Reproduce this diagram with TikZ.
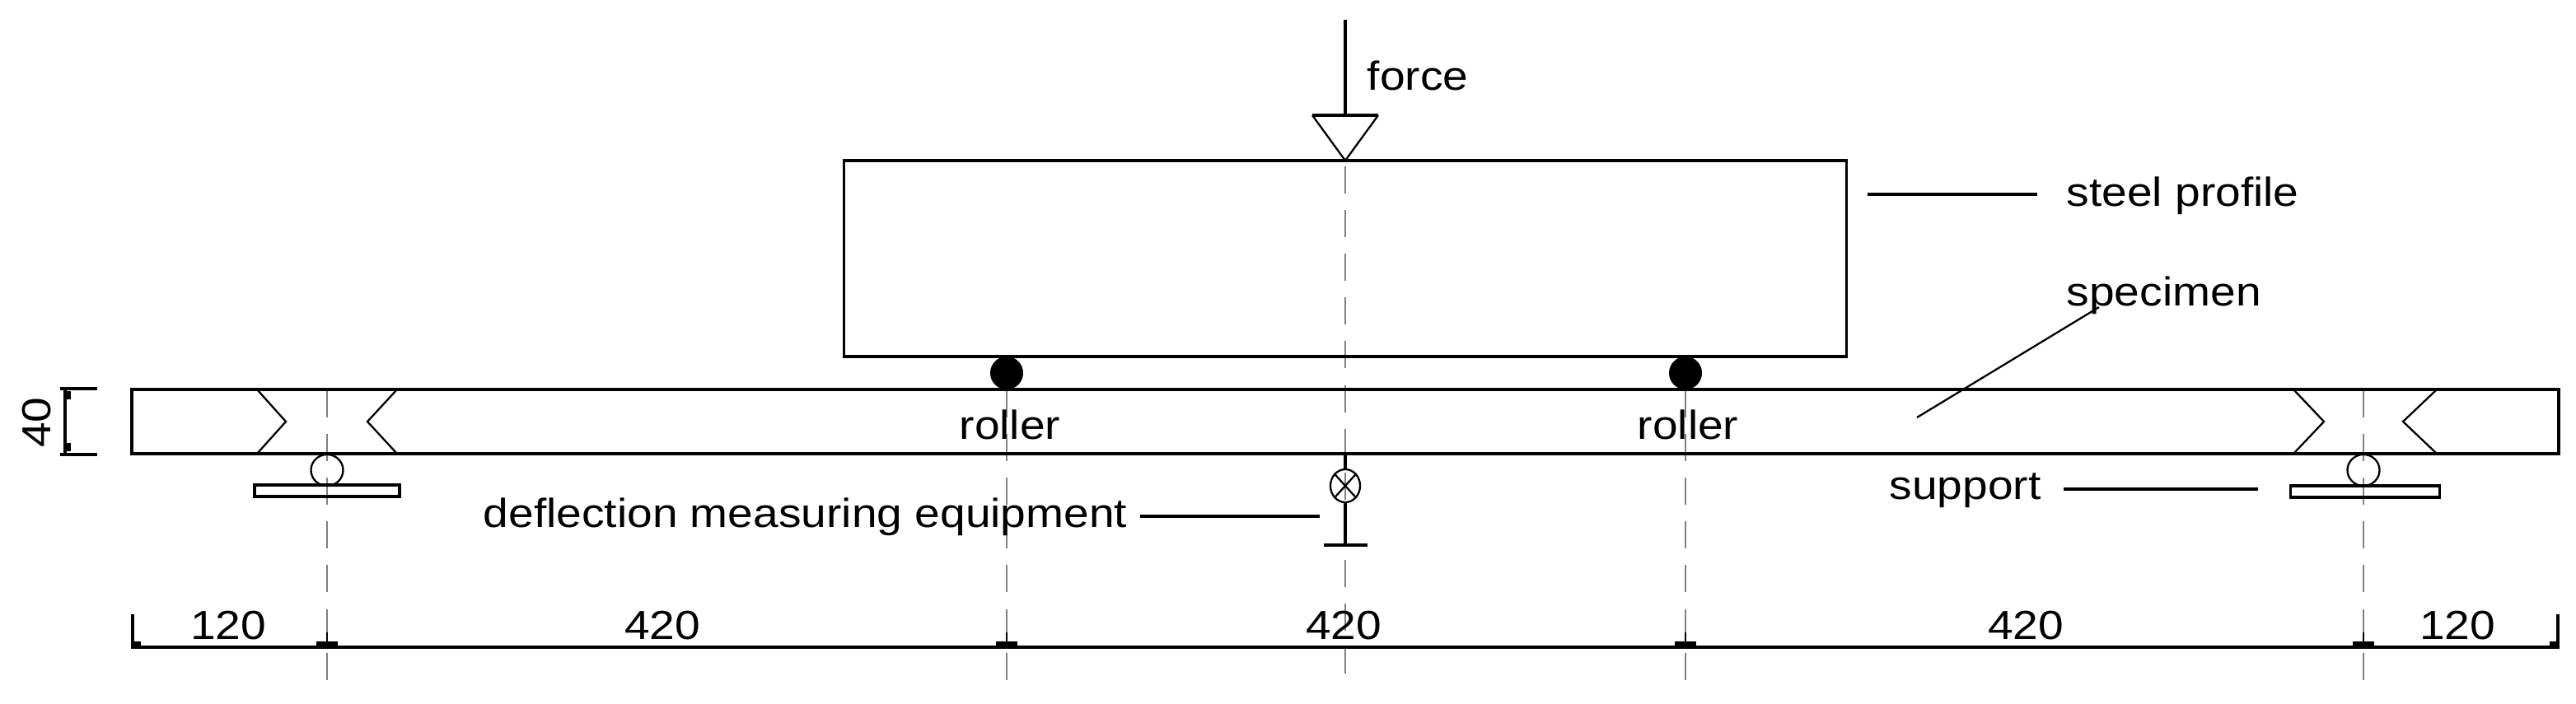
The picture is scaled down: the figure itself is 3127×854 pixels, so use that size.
\documentclass[tikz,border=0pt]{standalone}
\usepackage{fontspec}
\setmainfont[FakeStretch=1.12]{Liberation Sans}
\tikzset{
  thick line/.style={line width=0.95pt},
  thin line/.style={line width=0.65pt},
  center line/.style={line width=0.5pt, gray, dash pattern=on 9.4pt off 5.7pt},
  box/.style={draw, thick line, rectangle, inner sep=0pt, fill=none},
  label/.style={inner sep=0pt, font=\fontsize{14pt}{15pt}\selectfont},
  knob/.style={draw, thin line, ellipse, inner sep=0pt, minimum width=0.39cm, minimum height=0.38cm},
  dim tick/.style={fill, rectangle, inner sep=0pt, minimum width=0.26cm, minimum height=0.07cm},
  dim stem/.style={fill, rectangle, inner sep=0pt, minimum width=0.025cm, minimum height=0.14cm},
  dim end/.style={fill, rectangle, inner sep=0pt, minimum width=0.1cm, minimum height=0.07cm},
}
\usetikzlibrary{shapes.geometric}
\begin{document}
\begin{tikzpicture}[x=0.01cm,y=-0.01cm]
\useasboundingbox (0,0) rectangle (3127,854);
% center lines
\coordinate (cl0t) at (397,474);
\coordinate (cl0b) at (397,830);
\coordinate (cl1t) at (1222,474);
\coordinate (cl1b) at (1222,830);
\coordinate (cl2t) at (1633,202);
\coordinate (cl2b) at (1633,818);
\coordinate (cl3t) at (2046,474);
\coordinate (cl3b) at (2046,830);
\coordinate (cl4t) at (2869,474);
\coordinate (cl4b) at (2869,830);
\draw[center line] (cl0t) -- (cl0b);
\draw[center line] (cl1t) -- (cl1b);
\draw[center line] (cl2t) -- (cl2b);
\draw[center line] (cl3t) -- (cl3b);
\draw[center line] (cl4t) -- (cl4b);
% steel profile and specimen
\node[box, minimum width=12.16cm, minimum height=2.38cm] (steel) at (1633,314){};
\node[box, minimum width=29.44cm, minimum height=0.78cm] (spec) at (1633,512){};
% force
\coordinate (f0) at (1633,24);
\coordinate (f1) at (1633,140);
\coordinate (f2) at (1593,140);
\coordinate (f3) at (1673,140);
\coordinate (f4) at (1633,195);
\draw[thick line] (f0) -- (f1);
\draw[thick line] (f2) -- (f3);
\draw[thin line] (f2) -- (f4) -- (f3);
\node[label, anchor=west] (force) at (1659,92){force};
% rollers
\node[circle, fill, inner sep=0pt, minimum size=0.4cm] (rol0) at (1222,453){};
\node[circle, fill, inner sep=0pt, minimum size=0.4cm] (rol1) at (2046,453){};
\node[label] (rol0t) at (1226,516){roller};
\node[label] (rol1t) at (2049,516){roller};
% notches
\coordinate (n0) at (312,473);
\coordinate (n1) at (347,512);
\coordinate (n2) at (312,551);
\coordinate (n3) at (482,473);
\coordinate (n4) at (446,512);
\coordinate (n5) at (482,551);
\draw[thin line] (n0) -- (n1) -- (n2);
\draw[thin line] (n3) -- (n4) -- (n5);
\coordinate (n6) at (2784,473);
\coordinate (n7) at (2821,512);
\coordinate (n8) at (2784,551);
\coordinate (n9) at (2958,473);
\coordinate (n10) at (2917,512);
\coordinate (n11) at (2958,551);
\draw[thin line] (n6) -- (n7) -- (n8);
\draw[thin line] (n9) -- (n10) -- (n11);
% supports
\node[knob] (sup0) at (397,571){};
\node[knob] (sup1) at (2869,571){};
\node[box, minimum width=1.76cm, minimum height=0.14cm] (pl0) at (397,596){};
\node[box, minimum width=1.81cm, minimum height=0.14cm] (pl1) at (2871,597){};
% deflection gauge
\node[draw, thin line, ellipse, inner sep=0pt, minimum width=0.36cm, minimum height=0.4cm] (dfl) at (1633,590){};
\draw[thin line] (dfl.north west) -- (dfl.south east);
\draw[thin line] (dfl.north east) -- (dfl.south west);
\coordinate (d0) at (1633,551);
\coordinate (d1) at (1633,662);
\coordinate (d2) at (1607,662);
\coordinate (d3) at (1660,662);
\draw[thick line] (d0) -- (dfl);
\draw[thick line] (dfl) -- (d1);
\draw[thick line] (d2) -- (d3);
% labels and leaders
\node[label, anchor=west] (prof) at (2508,238){steel profile};
\coordinate (l0a) at (2267,236);
\coordinate (l0b) at (2473,236);
\draw[thick line] (l0a) -- (l0b);
\node[label, anchor=west] (spct) at (2508,359){specimen};
\coordinate (l1a) at (2548,373);
\coordinate (l1b) at (2327,507);
\draw[thin line] (l1a) -- (l1b);
\node[label, anchor=west] (supt) at (2293,596){support};
\coordinate (l2a) at (2505,594);
\coordinate (l2b) at (2741,594);
\draw[thick line] (l2a) -- (l2b);
\node[label, anchor=west] (dflt) at (586,628){deflection measuring equipment};
\coordinate (l3a) at (1384,627);
\coordinate (l3b) at (1602,627);
\draw[thick line] (l3a) -- (l3b);
% dimensions
\coordinate (dm0) at (161,786);
\coordinate (dm1) at (3105,786);
\coordinate (dm2) at (161,746);
\coordinate (dm3) at (3105,746);
\draw[thick line] (dm2) -- (dm0) -- (dm1) -- (dm3);
\node[dim tick] (tk0) at (397,782){};
\node[dim tick] (tk1) at (1222,782){};
\node[dim tick] (tk2) at (2046,782){};
\node[dim tick] (tk3) at (2869,782){};
\node[dim stem] (st0) at (397,775){};
\node[dim stem] (st1) at (1222,775){};
\node[dim stem] (st2) at (2046,775){};
\node[dim stem] (st3) at (2869,775){};
\node[dim end] (en0) at (166,782){};
\node[dim end] (en1) at (3100,782){};
\node[label] (dl0) at (277,760){120};
\node[label] (dl1) at (804,760){420};
\node[label] (dl2) at (1631,760){420};
\node[label] (dl3) at (2459,760){420};
\node[label] (dl4) at (2983,760){120};
\node[label, rotate=90] (dl5) at (45,513){40};
\coordinate (h0) at (73,472);
\coordinate (h1) at (118,472);
\coordinate (h2) at (73,552);
\coordinate (h3) at (118,552);
\coordinate (h4) at (79,472);
\coordinate (h5) at (79,552);
\draw[thick line] (h0) -- (h1);
\draw[thick line] (h2) -- (h3);
\draw[thick line] (h4) -- (h5);
\node[dim end, rotate=90] (en2) at (82,480){};
\node[dim end, rotate=90] (en3) at (82,543){};
\end{tikzpicture}
\end{document}
